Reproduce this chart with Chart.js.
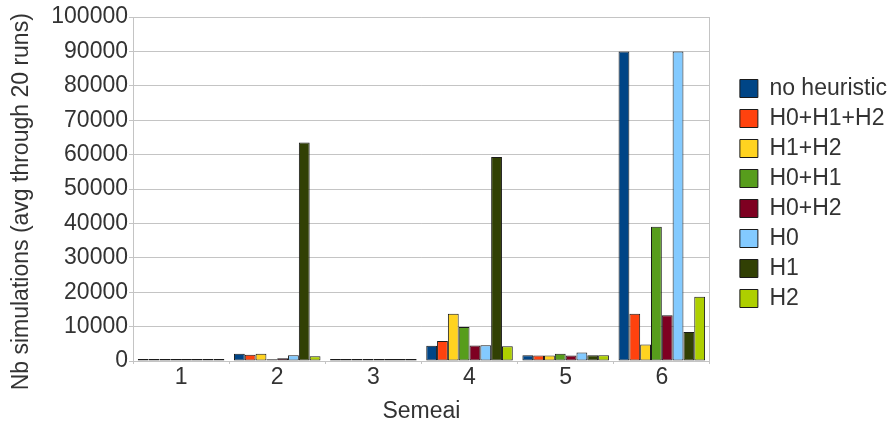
<!DOCTYPE html>
<html>
<head>
<meta charset="utf-8">
<script src="https://cdn.jsdelivr.net/npm/chart.js@4"></script>
<style>
  html, body { margin: 0; padding: 0; background: #fff; overflow: hidden; }
  #wrap { width: 888px; height: 426px; }
</style>
</head>
<body>
<div id="wrap"><canvas id="semeaiChart"></canvas></div>
<script>
var semeais=["1", "2", "3", "4", "5", "6"];
var noHeuristic=[600, 2100, 600, 4400, 1700, 90000];
var h0h1h2=[600, 1850, 600, 5800, 1600, 13700];
var h1h2=[600, 2100, 600, 13700, 1600, 4800];
var h0h1=[600, 500, 600, 9900, 2100, 39000];
var h0h2=[600, 800, 600, 4500, 1600, 13300];
var h0=[600, 1700, 600, 4600, 2500, 90000];
var h1=[600, 63500, 600, 59300, 1700, 8400];
var h2=[600, 1400, 600, 4300, 1700, 18700];
var yTicks=[0, 10000, 20000, 30000, 40000, 50000, 60000, 70000, 80000, 90000, 100000];

var series=[
  ["no heuristic", noHeuristic, "#004586"],
  ["H0+H1+H2", h0h1h2, "#ff420e"],
  ["H1+H2", h1h2, "#ffd320"],
  ["H0+H1", h0h1, "#579d1c"],
  ["H0+H2", h0h2, "#7e0021"],
  ["H0", h0, "#83caff"],
  ["H1", h1, "#314004"],
  ["H2", h2, "#aecf00"]
];

var gridColor="#c4c4c4";
var textColor="#333333";
var font={family: "'Liberation Sans', Arial, sans-serif", size: 23};

var datasets=series.map(function(s){
  return {
    label: s[0],
    data: s[1],
    backgroundColor: s[2],
    borderColor: "#1a1a1a",
    borderWidth: 1,
    borderSkipped: false,
    categoryPercentage: 0.9,
    barPercentage: 1.0
  };
});

var ctx=document.getElementById("semeaiChart").getContext("2d");
new Chart(ctx, {
  type: "bar",
  data: {labels: semeais, datasets: datasets},
  options: {
    responsive: true,
    maintainAspectRatio: false,
    animation: false,
    layout: {padding: {left: 0, top: 17, right: -9, bottom: 0}},
    plugins: {
      tooltip: {enabled: false},
      legend: {
        position: "right",
        align: "start",
        maxWidth: 300,
        title: {display: true, text: " ", font: {size: 10}, padding: {top: 41, bottom: 0}},
        labels: {
          boxWidth: 18,
          boxHeight: 18,
          padding: 7,
          color: textColor,
          font: {family: font.family, size: 23}
        }
      }
    },
    scales: {
      x: {
        grid: {display: true, drawOnChartArea: false, color: gridColor, tickLength: 3, offset: true},
        border: {display: true, color: gridColor},
        ticks: {color: textColor, font: font, padding: 0},
        title: {display: true, text: "Semeai", color: textColor, font: font, padding: {top: 4, bottom: 1}},
        afterFit: function(scale){ scale.height=65; }
      },
      y: {
        min: 0,
        max: 100000,
        afterBuildTicks: function(scale){
          scale.ticks=yTicks.map(function(v){ return {value: v}; });
        },
        grid: {color: gridColor, tickLength: 4},
        border: {display: true, color: gridColor},
        ticks: {
          color: textColor,
          font: font,
          padding: 1,
          callback: function(val){ return String(val); }
        },
        // trailing spaces push the rotated title a bit lower
        title: {display: true, text: "Nb simulations (avg through 20 runs)    ", color: textColor, font: font, padding: {top: 8, bottom: 4}},
        afterFit: function(scale){ scale.width=133; }
      },
      yRight: {
        position: "right",
        min: 0,
        max: 100000,
        grid: {display: false},
        border: {display: true, color: gridColor},
        ticks: {display: false},
        afterFit: function(scale){ scale.width=23; }
      }
    }
  }
});
</script>
</body>
</html>
